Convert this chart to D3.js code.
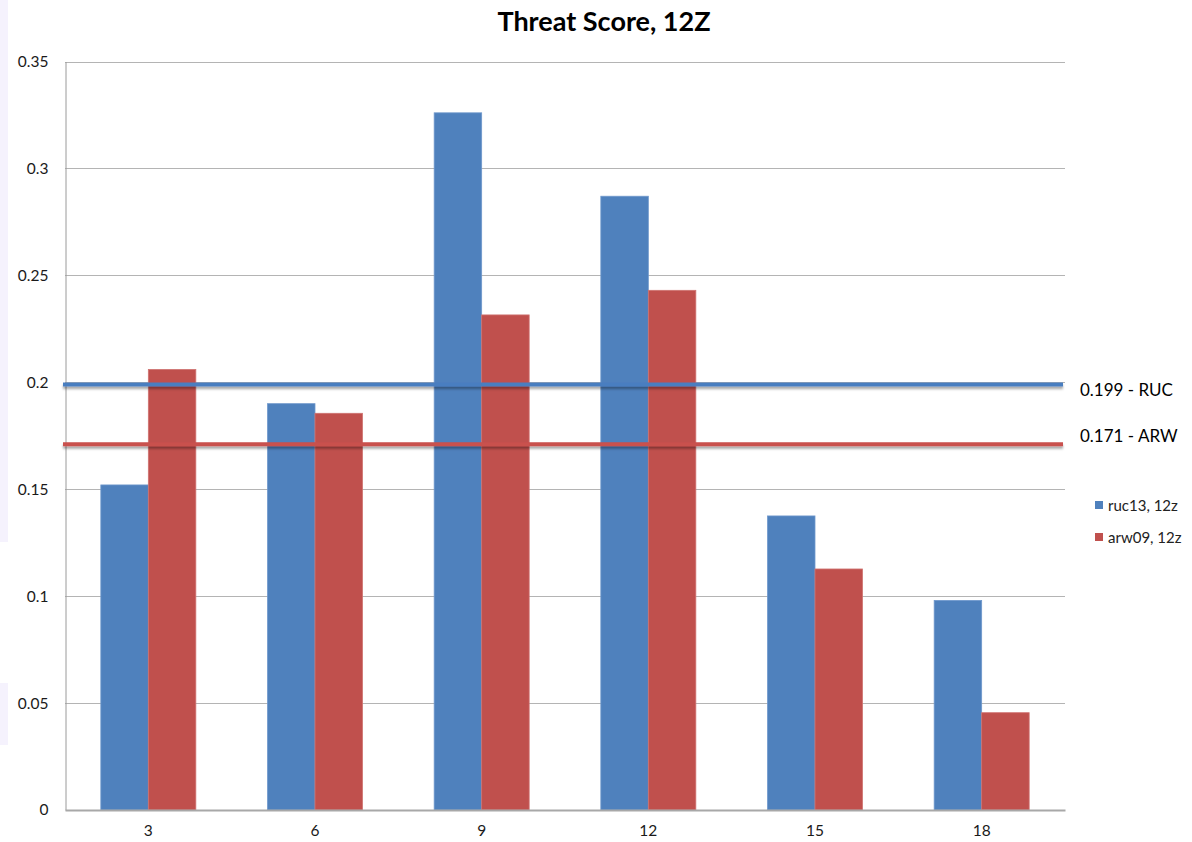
<!DOCTYPE html>
<html>
<head>
<meta charset="utf-8">
<script src="https://cdn.jsdelivr.net/npm/d3@7/dist/d3.min.js"></script>
<style>
  html, body { margin: 0; padding: 0; background: #ffffff; }
  svg { display: block; font-family: Lato, "Open Sans", sans-serif; }
</style>
</head>
<body>
<svg id="chart" width="1192" height="842"></svg>
<script>
// Forecast lead hours and threat scores per model
const leadHours = ["3", "6", "9", "12", "15", "18"];
const ruc13 = [0.152, 0.190, 0.326, 0.287, 0.1375, 0.098];
const arw09 = [0.206, 0.1855, 0.2315, 0.243, 0.1127, 0.0455];
const seriesNames = ["ruc13, 12z", "arw09, 12z"];
const seriesColors = ["#4f81bd", "#c0504d"];
const yTicks = [0, 0.05, 0.1, 0.15, 0.2, 0.25, 0.3, 0.35];
// Overall average scores drawn as reference lines
const averageValues = [0.199, 0.171];
const averageLabels = ["0.199 - RUC", "0.171 - ARW"];
const averageColors = ["#4a7ec0", "#c9514e"];

const svg = d3.select("#chart");
const W = 1192, H = 842;
const m = { left: 65, right: 127, top: 61.5, bottom: 32 };
const x0 = m.left, x1 = W - m.right, yTop = m.top, yBot = H - m.bottom;

// faint tint along the left edge
svg.append("rect").attr("x", 0).attr("y", 0).attr("width", 8).attr("height", 542).attr("fill", "#f5f2fd");
svg.append("rect").attr("x", 0).attr("y", 683).attr("width", 8).attr("height", 62).attr("fill", "#f5f2fd");

const defs = svg.append("defs");
const f = defs.append("filter").attr("id", "lineShadow")
  .attr("filterUnits", "userSpaceOnUse")
  .attr("x", 0).attr("y", 0).attr("width", W).attr("height", H);
f.append("feDropShadow").attr("dx", 0).attr("dy", 2.5).attr("stdDeviation", 1.2)
  .attr("flood-color", "#000").attr("flood-opacity", 0.35);

const x = d3.scaleBand().domain(leadHours).range([x0, x1]).paddingInner(0.43).paddingOuter(0.215);
const y = d3.scaleLinear().domain([0, 0.35]).range([yBot, yTop]);

// title
svg.append("text").attr("x", 604).attr("y", 31).attr("text-anchor", "middle")
  .attr("font-size", 27).attr("font-weight", 700).attr("fill", "#000")
  .text("Threat Score, 12Z");

// gridlines
svg.append("g").selectAll("line").data(yTicks.filter(d => d > 0)).join("line")
  .attr("x1", x0).attr("x2", x1)
  .attr("y1", d => Math.round(y(d)) + 0.5).attr("y2", d => Math.round(y(d)) + 0.5)
  .attr("stroke", "#b4b4b4").attr("stroke-width", 1);

// y axis
const yAxis = svg.append("g").attr("transform", `translate(${x0 + 0.5},0)`)
  .call(d3.axisLeft(y).tickValues(yTicks).tickSize(0).tickPadding(17).tickFormat(d => d3.format("")(d)));
yAxis.select(".domain").attr("stroke", "#9a9a9a");
yAxis.selectAll("text").attr("font-size", 15.5).attr("fill", "#1a1a1a").attr("font-family", "Lato, sans-serif");

// bars
const sub = d3.scaleBand().domain([0, 1]).range([0, x.bandwidth()]).padding(0);
const barData = [];
leadHours.forEach((h, i) => {
  barData.push({ h, s: 0, v: ruc13[i] });
  barData.push({ h, s: 1, v: arw09[i] });
});
svg.append("g").selectAll("rect").data(barData).join("rect")
  .attr("x", d => x(d.h) + sub(d.s))
  .attr("width", sub.bandwidth())
  .attr("y", d => y(d.v))
  .attr("height", d => y(0) - y(d.v))
  .attr("fill", d => seriesColors[d.s])
  .attr("stroke", d => d.s === 0 ? "#6f98cc" : "#cf7371")
  .attr("stroke-width", 0.8);

// x axis
const xAxis = svg.append("g").attr("transform", `translate(0,${yBot})`)
  .call(d3.axisBottom(x).tickSize(0).tickPadding(15));
xAxis.select(".domain").attr("stroke", "#a8a8a8").attr("stroke-width", 2);
xAxis.selectAll("text").attr("font-size", 15.5).attr("fill", "#1a1a1a").attr("font-family", "Lato, sans-serif");

// average reference lines with their labels to the right of the plot
const avgData = averageValues.map((v, i) => ({ v, label: averageLabels[i], color: averageColors[i] }));
const labelShift = [12, -2.5];
const avg = svg.append("g");
avg.selectAll("line").data(avgData).join("line")
  .attr("x1", x0 - 2).attr("x2", x1 - 2)
  .attr("y1", d => y(d.v)).attr("y2", d => y(d.v))
  .attr("stroke", d => d.color).attr("stroke-width", 4)
  .attr("filter", "url(#lineShadow)");
avg.selectAll("text").data(avgData).join("text")
  .attr("x", 1080).attr("y", (d, i) => y(d.v) + labelShift[i])
  .attr("font-size", 17).attr("fill", "#000")
  .text(d => d.label);

// legend
const legend = svg.append("g").attr("transform", "translate(1095,505)");
const li = legend.selectAll("g").data(seriesNames).join("g")
  .attr("transform", (d, i) => `translate(0,${i * 32})`);
li.append("rect").attr("x", 0).attr("y", -4).attr("width", 8).attr("height", 8)
  .attr("fill", (d, i) => seriesColors[i]);
li.append("text").attr("x", 13).attr("y", 5.5).attr("font-size", 15).attr("fill", "#222")
  .text(d => d);
</script>
</body>
</html>
